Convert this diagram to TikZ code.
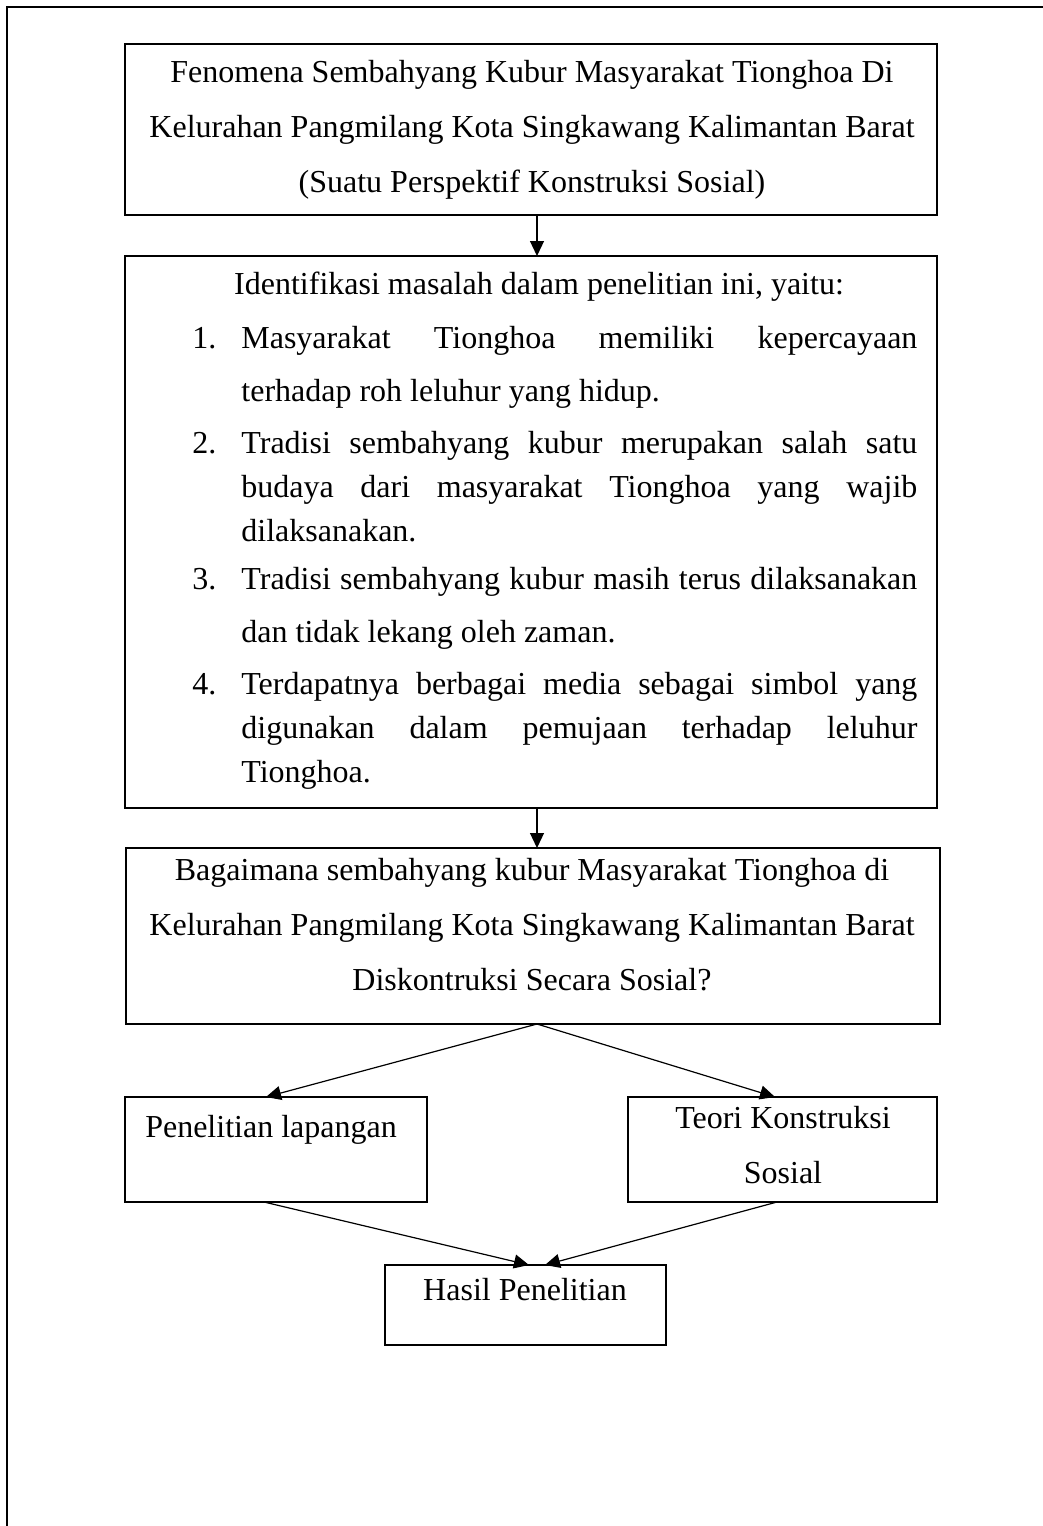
\documentclass[tikz,border=0pt]{standalone}
\usepackage{fontspec}
\setmainfont{Liberation Serif}
\usetikzlibrary{arrows.meta,calc}
\begin{document}
\begin{tikzpicture}[x=0.5pt,y=-0.5pt,
  box/.style={draw, line width=0.6pt, inner sep=0pt, outer sep=0pt},
  txt/.style={font=\fontsize{16}{27.5}\selectfont, inner sep=0pt},
  itm/.style={font=\fontsize{16}{22}\selectfont, inner sep=0pt, anchor=base west},
  arr/.style={-{Triangle[length=7.5pt,width=7pt]}, line width=0.6pt}]
\useasboundingbox (0,0) rectangle (1043,1526);
\draw[line width=1.2pt] (7,1526) -- (7,7) -- (1043,7);
% boxes
\node[box, minimum width=406pt, minimum height=85.5pt] (b1) at (531,129.5) {};
\node[box, minimum width=406pt, minimum height=276pt] (b2) at (531,532) {};
\node[box, minimum width=407pt, minimum height=88pt] (b3) at (533,936) {};
\node[box, minimum width=151pt, minimum height=52.5pt] (b4) at (276,1149.5) {};
\node[box, minimum width=154.5pt, minimum height=52.5pt] (b5) at (782.5,1149.5) {};
\node[box, minimum width=140.5pt, minimum height=40pt] (b6) at (525.5,1305) {};
% texts
\node[txt, align=center] (t1) at (532,130) {Fenomena Sembahyang Kubur Masyarakat Tionghoa Di\\Kelurahan Pangmilang Kota Singkawang Kalimantan Barat\\(Suatu Perspektif Konstruksi Sosial)};
\node[txt] (t2) at (539,287) {Identifikasi masalah dalam penelitian ini, yaitu:};
\node[itm] (i1) at (192,348) {\makebox[24.5pt][l]{1.}\parbox[t]{338pt}{\fontsize{16}{22}\selectfont\makebox[338pt][s]{Masyarakat Tionghoa memiliki kepercayaan}\\[4.5pt]terhadap roh leluhur yang hidup.}};
\node[itm] (i2) at (192,453) {\makebox[24.5pt][l]{2.}\parbox[t]{338pt}{\fontsize{16}{22}\selectfont\makebox[338pt][s]{Tradisi sembahyang kubur merupakan salah satu}\\\makebox[338pt][s]{budaya dari masyarakat Tionghoa yang wajib}\\dilaksanakan.}};
\node[itm] (i3) at (192,589) {\makebox[24.5pt][l]{3.}\parbox[t]{338pt}{\fontsize{16}{22}\selectfont\makebox[338pt][s]{Tradisi sembahyang kubur masih terus dilaksanakan}\\[4.5pt]dan tidak lekang oleh zaman.}};
\node[itm] (i4) at (192,694) {\makebox[24.5pt][l]{4.}\parbox[t]{338pt}{\fontsize{16}{22}\selectfont\makebox[338pt][s]{Terdapatnya berbagai media sebagai simbol yang}\\\makebox[338pt][s]{digunakan dalam pemujaan terhadap leluhur}\\Tionghoa.}};
\node[txt, align=center] (t3) at (532,925) {Bagaimana sembahyang kubur Masyarakat Tionghoa di\\Kelurahan Pangmilang Kota Singkawang Kalimantan Barat\\Diskontruksi Secara Sosial?};
\node[txt] (t4) at (271,1130) {Penelitian lapangan};
\node[txt, align=center] (t5) at (783,1145) {Teori Konstruksi\\Sosial};
\node[txt] (t6) at (525,1290) {Hasil Penelitian};
% connectors
\coordinate (ax) at (537,0);
\draw[arr] (b1.south -| ax) -- (b2.north -| ax);
\draw[arr] (b2.south -| ax) -- (b3.north -| ax);
\draw[arr] (b3.south -| ax) -- ($(b4.north)+(-10,0)$);
\draw[arr] (b3.south -| ax) -- ($(b5.north)+(-7.5,0)$);
\draw[arr] ($(b4.south)+(-12,0)$) -- ($(b6.north)+(3.5,0)$);
\draw[arr] ($(b5.south)+(-5.5,0)$) -- ($(b6.north)+(19.5,0)$);
\end{tikzpicture}
\end{document}
